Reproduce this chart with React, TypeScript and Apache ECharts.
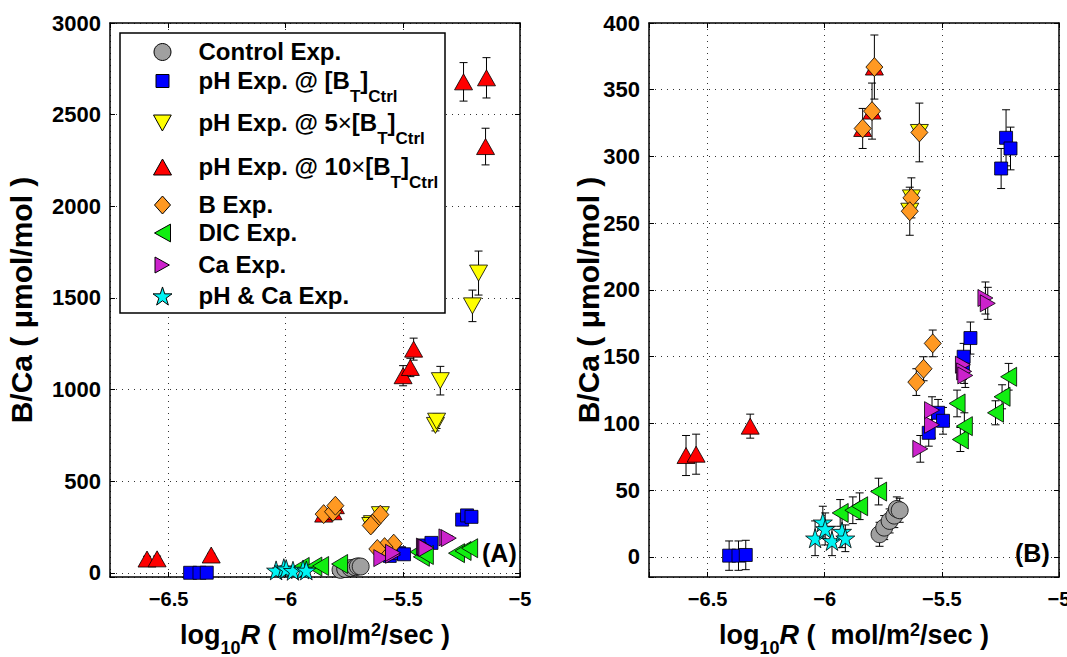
import { useEffect, useRef } from 'react';
import * as echarts from 'echarts';

// Each point: [log10 R, B/Ca (µmol/mol), error bar half-length]
const controlPts = [[-5.766, 17, 9], [-5.746, 22, 9], [-5.723, 27, 9], [-5.703, 31, 9], [-5.692, 36, 9], [-5.680, 35, 9]];
const phCtrlPts = [[-6.408, 1, 11], [-6.368, 1, 11], [-6.337, 1.5, 11], [-5.556, 93, 10], [-5.516, 108, 10], [-5.495, 102, 10], [-5.410, 143, 10], [-5.407, 150, 10], [-5.378, 164, 12], [-5.247, 291, 15], [-5.226, 314, 21], [-5.207, 306, 16]];
const ph5Pts = [[-5.596, 318, 0], [-5.630, 269, 0], [-5.637, 259, 0], [-5.361, 805, 30], [-5.356, 828, 40], [-5.340, 1049, 78], [-5.203, 1457, 86], [-5.177, 1636, 120]];
const ph10Pts = [[-6.592, 76, 15], [-6.549, 77, 15], [-6.318, 98, 9], [-5.838, 321, 0], [-5.798, 334, 0], [-5.788, 367, 0], [-5.499, 1076, 55], [-5.468, 1121, 50], [-5.454, 1221, 60], [-5.241, 2679, 105], [-5.147, 2326, 100], [-5.143, 2701, 110]];
const bPts = [[-5.838, 321, 15], [-5.798, 334, 21], [-5.788, 367, 24], [-5.596, 318, 22], [-5.630, 269, 15], [-5.637, 259, 18], [-5.539, 160, 10], [-5.578, 141, 9], [-5.609, 131, 10]];
const dicPts = [[-5.934, 33, 10], [-5.880, 35, 10], [-5.851, 38, 10], [-5.770, 49, 10], [-5.435, 115, 10], [-5.421, 88, 9], [-5.404, 98, 10], [-5.271, 108, 9], [-5.243, 120, 9], [-5.215, 135, 10]];
const caPts = [[-5.592, 81, 10], [-5.542, 99, 10], [-5.542, 110, 10], [-5.410, 144, 9], [-5.405, 139, 9], [-5.400, 136, 9], [-5.314, 194, 12], [-5.304, 190, 12]];
const phCaPts = [[-6.041, 14, 13], [-6.008, 26, 12], [-5.998, 21, 12], [-5.969, 12, 11], [-5.926, 19, 12], [-5.912, 14, 10]];

const xTicks = [-6.5, -6, -5.5, -5];
const yTicksA = [0, 500, 1000, 1500, 2000, 2500, 3000];
const yTicksB = [0, 50, 100, 150, 200, 250, 300, 350, 400];

const FONT = '"Liberation Sans", Arial, Helvetica, sans-serif';

const STAR = 'path://M0,-1L0.2245,-0.309L0.9511,-0.309L0.3633,0.118L0.5878,0.809L0,0.382L-0.5878,0.809L-0.3633,0.118L-0.9511,-0.309L-0.2245,-0.309Z';
const DOWN = 'path://M0,0L10,0L5,9Z';
const LEFT = 'path://M9,0L9,10L0,5Z';
const RIGHT = 'path://M0,0L0,10L9,5Z';

const seriesDefs = [
  { name: 'Control Exp.', label: '{m|Control Exp.}', pts: controlPts, symbol: 'circle', size: [17, 17], leg: [17, 17], color: '#a0a0a0' },
  { name: 'pH Exp. @ [BT]Ctrl', label: '{m|pH Exp. @ [B}{s|T}{m|]}{s|Ctrl}', pts: phCtrlPts, symbol: 'rect', size: [13, 13], leg: [13, 13], color: '#0000ff' },
  { name: 'pH Exp. @ 5×[BT]Ctrl', label: '{m|pH Exp. @ 5}{x|×}{m|[B}{s|T}{m|]}{s|Ctrl}', pts: ph5Pts, symbol: DOWN, size: [18, 16], leg: [18, 16], color: '#ffff00' },
  { name: 'pH Exp. @ 10×[BT]Ctrl', label: '{m|pH Exp. @ 10}{x|×}{m|[B}{s|T}{m|]}{s|Ctrl}', pts: ph10Pts, symbol: 'triangle', size: [18, 16], leg: [18, 16], color: '#ff0000' },
  { name: 'B Exp.', label: '{m|B Exp.}', pts: bPts, symbol: 'diamond', size: [17, 19], leg: [16, 18], color: '#ff9922' },
  { name: 'DIC Exp.', label: '{m|DIC Exp.}', pts: dicPts, symbol: LEFT, size: [16, 19], leg: [16, 18], color: '#11ee11' },
  { name: 'Ca Exp.', label: '{m|Ca Exp.}', pts: caPts, symbol: RIGHT, size: [15, 17], leg: [15, 16], color: '#cc22cc' },
  { name: 'pH & Ca Exp.', label: '{m|pH & Ca Exp.}', pts: phCaPts, symbol: STAR, size: [19, 19], leg: [19, 19], color: '#00f4f4' },
];

const legendRowY = [52, 81, 123, 167, 205, 233, 265, 296];

const fmtNum = (v: number) => (v < 0 ? '\u2212' + String(Math.abs(v)) : String(v));
const near = (list: number[], v: number) => list.some((t) => Math.abs(t - v) < 1e-6);

export default function App() {
  const ref = useRef<HTMLDivElement>(null);
  useEffect(() => {
    if (!ref.current) return;
    const chart = echarts.init(ref.current, null, { renderer: 'svg' });

    const tickLabel = { fontFamily: FONT, fontWeight: 'bold' as const, color: '#000' };
    const gridDefs = [
      { left: 110, top: 23, width: 410, height: 554 },
      { left: 649, top: 23, width: 410, height: 554 },
    ];
    const yRanges = [
      { min: -22, max: 3000, step: 500, ticks: yTicksA, gap: 73 },
      { min: -15, max: 400, step: 50, ticks: yTicksB, gap: 45 },
    ];
    const splitStyle = { show: true, lineStyle: { color: '#333', type: [1, 5] as any, width: 1 } };
    const tick = { show: true, inside: true, length: 5, lineStyle: { color: '#000', width: 1 } };
    const axisLine = { show: true, onZero: false, lineStyle: { color: '#000', width: 1.5 } };

    const xName = '{m|log}{s|10}{i|R}{m| (  mol/m}{p|2}{m|/sec )}';
    const nameRich = {
      m: { fontSize: 27, lineHeight: 30, fontWeight: 'bold', fontFamily: FONT, color: '#000', verticalAlign: 'top' },
      i: { fontSize: 27, lineHeight: 30, fontWeight: 'bold', fontStyle: 'italic', fontFamily: FONT, color: '#000', verticalAlign: 'top' },
      s: { fontSize: 18, lineHeight: 18, fontWeight: 'bold', fontFamily: FONT, color: '#000', verticalAlign: 'top', padding: [18, 0, 0, 0] },
      p: { fontSize: 18, lineHeight: 18, fontWeight: 'bold', fontFamily: FONT, color: '#000', verticalAlign: 'top', padding: [0, 0, 0, 0] },
    };

    const xAxis: any[] = [];
    const yAxis: any[] = [];
    [0, 1].forEach((g) => {
      xAxis.push({
        type: 'value', gridIndex: g, position: 'bottom', min: -6.75, max: -5, splitNumber: 4,
        minInterval: 0.5, maxInterval: 0.5,
        axisLine, axisTick: tick, splitLine: splitStyle,
        axisLabel: { ...tickLabel, fontSize: 20, margin: 12, formatter: (v: number) => (near(xTicks, v) ? fmtNum(v) : '') },
        name: xName, nameLocation: 'middle', nameGap: 44, nameMoveOverlap: false,
        nameTextStyle: { rich: nameRich },
      });
    });
    [0, 1].forEach((g) => {
      xAxis.push({
        type: 'value', gridIndex: g, position: 'top', min: -6.75, max: -5, splitNumber: 4,
        minInterval: 0.5, maxInterval: 0.5,
        axisLine, axisTick: tick, splitLine: { show: false }, axisLabel: { show: false },
      });
    });
    [0, 1].forEach((g) => {
      const r = yRanges[g];
      yAxis.push({
        type: 'value', gridIndex: g, position: 'left', min: r.min, max: r.max, splitNumber: 8,
        minInterval: r.step, maxInterval: r.step,
        axisLine, axisTick: tick, splitLine: splitStyle,
        axisLabel: { ...tickLabel, fontSize: 22, margin: 9, formatter: (v: number) => (near(r.ticks, v) ? fmtNum(v) : '') },
        name: 'B/Ca ( \u03bcmol/mol )', nameLocation: 'middle', nameGap: r.gap, nameMoveOverlap: false,
        nameTextStyle: { fontSize: 30, lineHeight: 32, fontWeight: 'bold', fontFamily: FONT, color: '#000' },
      });
    });
    [0, 1].forEach((g) => {
      const r = yRanges[g];
      yAxis.push({
        type: 'value', gridIndex: g, position: 'right', min: r.min, max: r.max, splitNumber: 8,
        minInterval: r.step, maxInterval: r.step,
        axisLine, axisTick: tick, splitLine: { show: false }, axisLabel: { show: false },
      });
    });

    const series: any[] = [];
    const allPts = seriesDefs.flatMap((d) => d.pts).filter((p) => p[2] > 0);
    [0, 1].forEach((g) => {
      series.push({
        type: 'custom', name: 'errorbars', xAxisIndex: g, yAxisIndex: g, clip: true, silent: true, z: 2,
        encode: { x: 0, y: 1 },
        data: allPts,
        renderItem: (_p: any, api: any) => {
          const x = api.value(0), y = api.value(1), e = api.value(2);
          const a = api.coord([x, y + e]);
          const b = api.coord([x, y - e]);
          const w = 4;
          const st = { stroke: '#000', lineWidth: 1 };
          return {
            type: 'group',
            children: [
              { type: 'line', shape: { x1: a[0], y1: a[1], x2: b[0], y2: b[1] }, style: st },
              { type: 'line', shape: { x1: a[0] - w, y1: a[1], x2: a[0] + w, y2: a[1] }, style: st },
              { type: 'line', shape: { x1: b[0] - w, y1: b[1], x2: b[0] + w, y2: b[1] }, style: st },
            ],
          };
        },
      });
      seriesDefs.forEach((d, i) => {
        series.push({
          type: 'scatter', name: d.name, xAxisIndex: g, yAxisIndex: g, clip: true, silent: true,
          z: 3 + i * 0.01,
          symbol: d.symbol, symbolSize: d.size,
          itemStyle: { color: d.color, borderColor: '#000', borderWidth: 0.8, opacity: 1 },
          data: d.pts.map((p) => [p[0], p[1]]),
        });
      });
    });

    const legendRich = {
      m: { fontSize: 24, lineHeight: 26, fontWeight: 'bold', fontFamily: FONT, color: '#000', verticalAlign: 'top' },
      x: { fontSize: 24, lineHeight: 26, fontWeight: 'normal', fontFamily: FONT, color: '#000', verticalAlign: 'top' },
      s: { fontSize: 17, lineHeight: 17, fontWeight: 'bold', fontFamily: FONT, color: '#000', verticalAlign: 'top', padding: [20, 0, 0, 0] },
    };
    const legend = seriesDefs.map((d, i) => {
      const w = d.leg[0], h = d.leg[1];
      const left = 162 - w / 2;
      return {
        data: [{ name: d.name, icon: d.symbol }],
        left, top: legendRowY[i] - 13, orient: 'vertical', padding: 0,
        itemWidth: w, itemHeight: h, selectedMode: false, z: 6,
        itemStyle: { borderColor: '#000', borderWidth: 1 },
        formatter: () => d.label,
        textStyle: { fontFamily: FONT, fontWeight: 'bold', fontSize: 24, color: '#000', padding: [0, 0, 0, 198 - (left + w + 5)], rich: legendRich },
      };
    });

    chart.setOption({
      animation: false,
      backgroundColor: '#fff',
      grid: gridDefs.map((g) => ({ ...g, containLabel: false, outerBoundsMode: 'none' })),
      xAxis, yAxis, series, legend,
      graphic: [
        { type: 'rect', z: 5, shape: { x: 120, y: 33, width: 325, height: 280 }, style: { fill: '#fff', stroke: '#000', lineWidth: 1.5 } },
        { type: 'text', z: 7, x: 482, y: 553, style: { text: '(A)', fontSize: 25, fontWeight: 'bold', fontFamily: FONT, fill: '#000', verticalAlign: 'middle', align: 'left' } },
        { type: 'text', z: 7, x: 1015, y: 553, style: { text: '(B)', fontSize: 25, fontWeight: 'bold', fontFamily: FONT, fill: '#000', verticalAlign: 'middle', align: 'left' } },
      ],
    });
    return () => chart.dispose();
  }, []);
  return <div ref={ref} style={{ position: 'absolute', left: 0, top: 0, width: 1067, height: 657 }} />;
}
